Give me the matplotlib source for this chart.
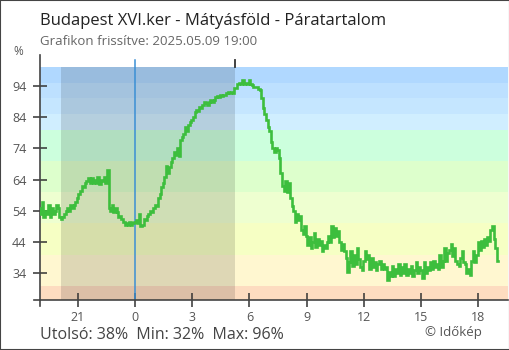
import numpy as np
import matplotlib
matplotlib.use("Agg")
import matplotlib.pyplot as plt
from matplotlib.patches import Rectangle
from matplotlib.lines import Line2D

plt.rcParams['font.family'] = ['Open Sans', 'DejaVu Sans']

title = "Budapest XVI.ker - Mátyásföld - Páratartalom"
subtitle = "Grafikon frissítve: 2025.05.09 19:00"
stats_text = "Utolsó: 38%  Min: 32%  Max: 96%"
credit = "© Időkép"

# time axis: hours relative to midnight of 2025.05.09, 5-minute readings
start_hour = -5.0
step_minutes = 5
humidity = [
    55, 53, 57, 52, 54, 53, 56, 52, 55, 53, 54, 56,            # 19h
    55, 52, 51.5, 52, 53, 54, 55, 54, 56, 55, 56, 57,          # 20h
    58, 59.5, 60.5, 62, 61.5, 63, 63.5, 64.5, 63, 64.5, 63, 64,  # 21h
    63, 65, 62.5, 64, 63.5, 65, 63, 67, 55, 54, 56, 53.5,      # 22h
    55, 53.5, 52, 52.5, 51.5, 50.5, 49.5, 50, 49.5, 50.5, 49.5, 50,  # 23h
    50.5, 51, 50, 53, 49, 49.5, 51.5, 51, 52.5, 53, 54, 53.5,  # 0h
    55, 56, 55.5, 58, 59.5, 61.5, 63, 65, 68.5, 66, 68, 69.5,  # 1h
    71, 73, 72, 74, 71.5, 76.7, 77.8, 78.5, 81, 79.5, 81.5, 82.5,  # 2h
    83, 84, 85.8, 86.3, 86, 87.4, 87, 88, 89, 88.5, 88, 89,    # 3h
    89.5, 89, 89.5, 90.5, 90.8, 90.5, 91, 90.8, 91, 91.2, 91.8, 92,  # 4h
    91.9, 92, 91.9, 93.2, 93.5, 94.5, 95, 94.5, 96, 94.5, 95, 94.8,  # 5h
    96, 94.5, 94.3, 93.8, 93.8, 93.8, 93, 92.7, 90, 87, 85, 83,  # 6h
    81, 79.5, 76, 74, 73, 74, 73.5, 71, 66, 62, 60.5, 63.5,    # 7h
    60, 63, 58, 55.5, 54, 50.5, 53, 51, 52.5, 48, 46.5, 49,    # 8h
    46, 43, 45.5, 42, 44, 47, 42.5, 45, 43, 44.5, 41, 43,      # 9h
    42, 44, 46, 44, 49, 45.5, 48.5, 46, 47.5, 44, 41.5, 43.5,  # 10h
    41, 39, 34.5, 37.5, 41, 36.5, 40, 37, 42, 38.5, 36, 35,    # 11h
    38, 41, 38.5, 40, 35.5, 39, 36, 37.5, 35, 37, 38, 35.5,    # 12h
    37, 35.5, 36, 32, 34.5, 33, 36.5, 33, 35.5, 34, 37, 33.5,  # 13h
    36, 34, 37, 33.5, 35.5, 34, 36.5, 33, 35, 37.5, 34, 36,    # 14h
    35, 32.5, 37.5, 34, 36, 35, 37.5, 35.5, 38, 36, 37, 35.5,  # 15h
    40, 36, 38, 42, 38, 40.5, 41.5, 43.5, 39.5, 42, 38, 37,    # 16h
    36.5, 39, 41, 37.5, 37, 34, 35.5, 33.5, 38, 41, 37.5, 40,  # 17h
    44, 41.5, 44.5, 42.5, 45, 43, 45.5, 44.5, 48, 49, 45, 42,  # 18h
    38,                                                        # 19h
]

band_edges = [0, 30, 40, 50, 60, 70, 80, 85, 90, 95, 100]
band_colors = ["#fddcc0", "#fff7d0", "#f6ffc4", "#eeffd0", "#ddffcc",
               "#ccffdd", "#d0eeff", "#c5e6ff", "#bde0ff", "#b0d8ff"]

night_start = -3.88   # sunset 20:07
night_end = 5.23      # sunrise 05:14

xticks = [-3, 0, 3, 6, 9, 12, 15, 18]
xticklabels = ["21", "0", "3", "6", "9", "12", "15", "18"]
yticks = [34, 44, 54, 64, 74, 84, 94]

ylo, yhi = 25.45, 103.93
xlo, xhi = -4.97, 19.55

W, H = 510, 350
fig = plt.figure(figsize=(W / 100, H / 100), dpi=100)
ax = fig.add_axes([40 / W, 1 - 300 / H, 468 / W, 245 / H])
ax.set_xlim(xlo, xhi)
ax.set_ylim(ylo, yhi)
ax.set_facecolor("white")

for lo, hi, c in zip(band_edges[:-1], band_edges[1:], band_colors):
    ax.axhspan(lo, hi, color=c, lw=0, zorder=0)

ax.add_patch(Rectangle((night_start, ylo), night_end - night_start, 100 - ylo,
                       facecolor="black", alpha=0.13, lw=0, zorder=1))
ax.plot([0, 0], [ylo, 102.3], color="#3b8fd4", lw=1.1, zorder=2)
ax.plot([night_end, night_end], [100, 102.3], color="#333333", lw=1.3, zorder=2)

times = start_hour + np.arange(len(humidity)) * step_minutes / 60.0
ax.plot(times, humidity, color="#3dbe3d", lw=1.9, zorder=3,
        drawstyle="steps-mid", solid_joinstyle="miter")

for side in ["top", "right"]:
    ax.spines[side].set_visible(False)
for side in ["left", "bottom"]:
    ax.spines[side].set_color("#444444")
    ax.spines[side].set_linewidth(1.2)

ax.set_xticks(xticks)
ax.set_xticklabels(xticklabels)
ax.set_yticks(yticks)
ax.tick_params(direction="inout", length=9.4, width=1.1, color="#333333",
               labelcolor="#555555", labelsize=9)
ax.tick_params(axis="x", pad=3)
ax.tick_params(axis="y", pad=5)

# axis line extensions
fig.add_artist(Line2D([34 / W, 40 / W], [1 - 300 / H] * 2, color="#444444", lw=1.2))
fig.add_artist(Line2D([40 / W] * 2, [1 - 300 / H, 1 - 306 / H], color="#444444", lw=1.2))

fig.text(40 / W, 1 - 25 / H, title, fontsize=12, color="#222222", ha="left", va="baseline")
fig.text(40 / W, 1 - 45 / H, subtitle, fontsize=9.5, color="#666666", ha="left", va="baseline")
fig.text(13 / W, 1 - 55 / H, "%", fontsize=8.5, color="#555555", ha="left", va="baseline")
fig.text(40 / W, 1 - 339 / H, stats_text, fontsize=11.5, color="#444444", ha="left", va="baseline")
fig.text(425 / W, 1 - 336 / H, credit, fontsize=9.5, color="#555555", ha="left", va="baseline")

fig.add_artist(Rectangle((0, 0), 1, 1, transform=fig.transFigure, fill=False,
                         edgecolor="#444444", lw=1.5))

fig.savefig("out.png", dpi=100)
